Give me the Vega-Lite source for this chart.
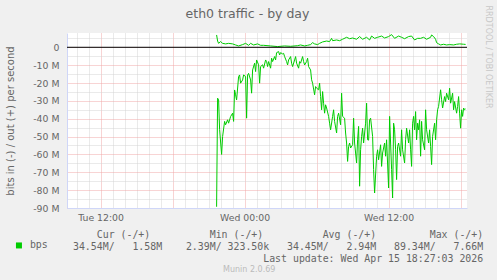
{
"$schema": "https://vega.github.io/schema/vega-lite/v6.json",
"width": 400, "height": 175,
"autosize": "none",
"padding": {"left": 67, "top": 33, "right": 30, "bottom": 72},
"background": "#F0F0F0",
"view": {"fill": "#FFFFFF", "stroke": null},
"title": {"text": "eth0 traffic - by day", "font": "DejaVu Sans", "fontSize": 12.5, "fontWeight": "normal", "color": "#666666", "frame": "group", "anchor": "middle", "dx": -19.5, "offset": -15},
"data": {"values": [
{"t":"2026-04-14T21:40:00Z","dir":"in","mbps":-89.3},
{"t":"2026-04-14T21:45:00Z","dir":"in","mbps":-28.5},
{"t":"2026-04-14T21:50:00Z","dir":"in","mbps":-29.5},
{"t":"2026-04-14T21:55:00Z","dir":"in","mbps":-46},
{"t":"2026-04-14T22:05:00Z","dir":"in","mbps":-60},
{"t":"2026-04-14T22:10:00Z","dir":"in","mbps":-50},
{"t":"2026-04-14T22:20:00Z","dir":"in","mbps":-41.5},
{"t":"2026-04-14T22:25:00Z","dir":"in","mbps":-43.4},
{"t":"2026-04-14T22:35:00Z","dir":"in","mbps":-40.6},
{"t":"2026-04-14T22:40:00Z","dir":"in","mbps":-42.5},
{"t":"2026-04-14T22:50:00Z","dir":"in","mbps":-38.8},
{"t":"2026-04-14T23:00:00Z","dir":"in","mbps":-36.9},
{"t":"2026-04-14T23:05:00Z","dir":"in","mbps":-41.5},
{"t":"2026-04-14T23:10:00Z","dir":"in","mbps":-23.9},
{"t":"2026-04-14T23:15:00Z","dir":"in","mbps":-26.6},
{"t":"2026-04-14T23:20:00Z","dir":"in","mbps":-29.5},
{"t":"2026-04-14T23:30:00Z","dir":"in","mbps":-16.4},
{"t":"2026-04-14T23:35:00Z","dir":"in","mbps":-15.5},
{"t":"2026-04-14T23:40:00Z","dir":"in","mbps":-20.1},
{"t":"2026-04-14T23:50:00Z","dir":"in","mbps":-18.3},
{"t":"2026-04-14T23:55:00Z","dir":"in","mbps":-15.5},
{"t":"2026-04-15T00:05:00Z","dir":"in","mbps":-16.4},
{"t":"2026-04-15T00:10:00Z","dir":"in","mbps":-39.7},
{"t":"2026-04-15T00:15:00Z","dir":"in","mbps":-15.5},
{"t":"2026-04-15T00:20:00Z","dir":"in","mbps":-14.6},
{"t":"2026-04-15T00:30:00Z","dir":"in","mbps":-18.3},
{"t":"2026-04-15T00:35:00Z","dir":"in","mbps":-25.7},
{"t":"2026-04-15T00:40:00Z","dir":"in","mbps":-12.7},
{"t":"2026-04-15T00:50:00Z","dir":"in","mbps":-8.9},
{"t":"2026-04-15T00:55:00Z","dir":"in","mbps":-13.6},
{"t":"2026-04-15T01:00:00Z","dir":"in","mbps":-7.1},
{"t":"2026-04-15T01:10:00Z","dir":"in","mbps":-9.8},
{"t":"2026-04-15T01:15:00Z","dir":"in","mbps":-20.1},
{"t":"2026-04-15T01:20:00Z","dir":"in","mbps":-10.8},
{"t":"2026-04-15T01:30:00Z","dir":"in","mbps":-9.8},
{"t":"2026-04-15T01:35:00Z","dir":"in","mbps":-11.7},
{"t":"2026-04-15T01:45:00Z","dir":"in","mbps":-7.1},
{"t":"2026-04-15T01:50:00Z","dir":"in","mbps":-8.0},
{"t":"2026-04-15T01:55:00Z","dir":"in","mbps":-10.8},
{"t":"2026-04-15T02:00:00Z","dir":"in","mbps":-8.0},
{"t":"2026-04-15T02:10:00Z","dir":"in","mbps":-11.7},
{"t":"2026-04-15T02:15:00Z","dir":"in","mbps":-6.1},
{"t":"2026-04-15T02:20:00Z","dir":"in","mbps":-8.0},
{"t":"2026-04-15T02:30:00Z","dir":"in","mbps":-5.2},
{"t":"2026-04-15T02:35:00Z","dir":"in","mbps":-7.1},
{"t":"2026-04-15T02:40:00Z","dir":"in","mbps":-3.0},
{"t":"2026-04-15T02:50:00Z","dir":"in","mbps":-2.4},
{"t":"2026-04-15T02:55:00Z","dir":"in","mbps":-4.3},
{"t":"2026-04-15T03:00:00Z","dir":"in","mbps":-3.0},
{"t":"2026-04-15T03:10:00Z","dir":"in","mbps":-3.7},
{"t":"2026-04-15T03:15:00Z","dir":"in","mbps":-3.4},
{"t":"2026-04-15T03:20:00Z","dir":"in","mbps":-5.2},
{"t":"2026-04-15T03:30:00Z","dir":"in","mbps":-8.0},
{"t":"2026-04-15T03:35:00Z","dir":"in","mbps":-9.9},
{"t":"2026-04-15T03:40:00Z","dir":"in","mbps":-7.1},
{"t":"2026-04-15T03:50:00Z","dir":"in","mbps":-5.2},
{"t":"2026-04-15T03:55:00Z","dir":"in","mbps":-8.9},
{"t":"2026-04-15T04:00:00Z","dir":"in","mbps":-10.8},
{"t":"2026-04-15T04:10:00Z","dir":"in","mbps":-7.1},
{"t":"2026-04-15T04:15:00Z","dir":"in","mbps":-5.2},
{"t":"2026-04-15T04:20:00Z","dir":"in","mbps":-8.9},
{"t":"2026-04-15T04:30:00Z","dir":"in","mbps":-11.7},
{"t":"2026-04-15T04:35:00Z","dir":"in","mbps":-8.0},
{"t":"2026-04-15T04:40:00Z","dir":"in","mbps":-8.9},
{"t":"2026-04-15T04:50:00Z","dir":"in","mbps":-5.2},
{"t":"2026-04-15T04:55:00Z","dir":"in","mbps":-8.0},
{"t":"2026-04-15T05:00:00Z","dir":"in","mbps":-9.9},
{"t":"2026-04-15T05:10:00Z","dir":"in","mbps":-8.0},
{"t":"2026-04-15T05:15:00Z","dir":"in","mbps":-6.1},
{"t":"2026-04-15T05:20:00Z","dir":"in","mbps":-10.8},
{"t":"2026-04-15T05:30:00Z","dir":"in","mbps":-12.7},
{"t":"2026-04-15T05:35:00Z","dir":"in","mbps":-18.2},
{"t":"2026-04-15T05:40:00Z","dir":"in","mbps":-20.1},
{"t":"2026-04-15T05:50:00Z","dir":"in","mbps":-26.6},
{"t":"2026-04-15T05:55:00Z","dir":"in","mbps":-22},
{"t":"2026-04-15T06:00:00Z","dir":"in","mbps":-22.9},
{"t":"2026-04-15T06:10:00Z","dir":"in","mbps":-23.8},
{"t":"2026-04-15T06:15:00Z","dir":"in","mbps":-20.1},
{"t":"2026-04-15T06:20:00Z","dir":"in","mbps":-27.6},
{"t":"2026-04-15T06:25:00Z","dir":"in","mbps":-35},
{"t":"2026-04-15T06:30:00Z","dir":"in","mbps":-24.8},
{"t":"2026-04-15T06:35:00Z","dir":"in","mbps":-31.3},
{"t":"2026-04-15T06:40:00Z","dir":"in","mbps":-36.9},
{"t":"2026-04-15T06:45:00Z","dir":"in","mbps":-32.2},
{"t":"2026-04-15T06:50:00Z","dir":"in","mbps":-34},
{"t":"2026-04-15T07:00:00Z","dir":"in","mbps":-38.7},
{"t":"2026-04-15T07:05:00Z","dir":"in","mbps":-42.5},
{"t":"2026-04-15T07:10:00Z","dir":"in","mbps":-46.2},
{"t":"2026-04-15T07:20:00Z","dir":"in","mbps":-38.7},
{"t":"2026-04-15T07:25:00Z","dir":"in","mbps":-35},
{"t":"2026-04-15T07:30:00Z","dir":"in","mbps":-41.5},
{"t":"2026-04-15T07:40:00Z","dir":"in","mbps":-48},
{"t":"2026-04-15T07:45:00Z","dir":"in","mbps":-38.7},
{"t":"2026-04-15T07:50:00Z","dir":"in","mbps":-36.9},
{"t":"2026-04-15T08:00:00Z","dir":"in","mbps":-43.4},
{"t":"2026-04-15T08:05:00Z","dir":"in","mbps":-25.7},
{"t":"2026-04-15T08:10:00Z","dir":"in","mbps":-38.7},
{"t":"2026-04-15T08:20:00Z","dir":"in","mbps":-39.7},
{"t":"2026-04-15T08:25:00Z","dir":"in","mbps":-48},
{"t":"2026-04-15T08:30:00Z","dir":"in","mbps":-53.6},
{"t":"2026-04-15T08:35:00Z","dir":"in","mbps":-63.9},
{"t":"2026-04-15T08:40:00Z","dir":"in","mbps":-55.5},
{"t":"2026-04-15T08:45:00Z","dir":"in","mbps":-53.6},
{"t":"2026-04-15T08:50:00Z","dir":"in","mbps":-56.4},
{"t":"2026-04-15T09:00:00Z","dir":"in","mbps":-54.6},
{"t":"2026-04-15T09:05:00Z","dir":"in","mbps":-39.7},
{"t":"2026-04-15T09:10:00Z","dir":"in","mbps":-53.6},
{"t":"2026-04-15T09:15:00Z","dir":"in","mbps":-59.2},
{"t":"2026-04-15T09:20:00Z","dir":"in","mbps":-64.8},
{"t":"2026-04-15T09:25:00Z","dir":"in","mbps":-51.8},
{"t":"2026-04-15T09:30:00Z","dir":"in","mbps":-44.3},
{"t":"2026-04-15T09:35:00Z","dir":"in","mbps":-77.8},
{"t":"2026-04-15T09:40:00Z","dir":"in","mbps":-57.4},
{"t":"2026-04-15T09:45:00Z","dir":"in","mbps":-49.9},
{"t":"2026-04-15T09:50:00Z","dir":"in","mbps":-45.3},
{"t":"2026-04-15T09:55:00Z","dir":"in","mbps":-53.6},
{"t":"2026-04-15T10:05:00Z","dir":"in","mbps":-42.5},
{"t":"2026-04-15T10:10:00Z","dir":"in","mbps":-31.3},
{"t":"2026-04-15T10:15:00Z","dir":"in","mbps":-51.8},
{"t":"2026-04-15T10:20:00Z","dir":"in","mbps":-52},
{"t":"2026-04-15T10:25:00Z","dir":"in","mbps":-40.6},
{"t":"2026-04-15T10:30:00Z","dir":"in","mbps":-39.7},
{"t":"2026-04-15T10:40:00Z","dir":"in","mbps":-49.9},
{"t":"2026-04-15T10:45:00Z","dir":"in","mbps":-68.5},
{"t":"2026-04-15T10:50:00Z","dir":"in","mbps":-81.6},
{"t":"2026-04-15T11:00:00Z","dir":"in","mbps":-61},
{"t":"2026-04-15T11:05:00Z","dir":"in","mbps":-57.4},
{"t":"2026-04-15T11:10:00Z","dir":"in","mbps":-63},
{"t":"2026-04-15T11:20:00Z","dir":"in","mbps":-54.6},
{"t":"2026-04-15T11:25:00Z","dir":"in","mbps":-66.7},
{"t":"2026-04-15T11:30:00Z","dir":"in","mbps":-59.2},
{"t":"2026-04-15T11:40:00Z","dir":"in","mbps":-53.6},
{"t":"2026-04-15T11:45:00Z","dir":"in","mbps":-61},
{"t":"2026-04-15T11:50:00Z","dir":"in","mbps":-51.8},
{"t":"2026-04-15T12:00:00Z","dir":"in","mbps":-78.8},
{"t":"2026-04-15T12:05:00Z","dir":"in","mbps":-38.7},
{"t":"2026-04-15T12:10:00Z","dir":"in","mbps":-53.6},
{"t":"2026-04-15T12:15:00Z","dir":"in","mbps":-68.5},
{"t":"2026-04-15T12:20:00Z","dir":"in","mbps":-84.4},
{"t":"2026-04-15T12:25:00Z","dir":"in","mbps":-42.5},
{"t":"2026-04-15T12:30:00Z","dir":"in","mbps":-46.2},
{"t":"2026-04-15T12:35:00Z","dir":"in","mbps":-57.4},
{"t":"2026-04-15T12:40:00Z","dir":"in","mbps":-74.1},
{"t":"2026-04-15T12:45:00Z","dir":"in","mbps":-55.5},
{"t":"2026-04-15T12:50:00Z","dir":"in","mbps":-53.6},
{"t":"2026-04-15T13:00:00Z","dir":"in","mbps":-61},
{"t":"2026-04-15T13:05:00Z","dir":"in","mbps":-46.2},
{"t":"2026-04-15T13:10:00Z","dir":"in","mbps":-57.4},
{"t":"2026-04-15T13:20:00Z","dir":"in","mbps":-64.8},
{"t":"2026-04-15T13:25:00Z","dir":"in","mbps":-51.8},
{"t":"2026-04-15T13:30:00Z","dir":"in","mbps":-45.3},
{"t":"2026-04-15T13:40:00Z","dir":"in","mbps":-53.6},
{"t":"2026-04-15T13:45:00Z","dir":"in","mbps":-46.2},
{"t":"2026-04-15T13:50:00Z","dir":"in","mbps":-57.4},
{"t":"2026-04-15T13:55:00Z","dir":"in","mbps":-66.7},
{"t":"2026-04-15T14:00:00Z","dir":"in","mbps":-42.5},
{"t":"2026-04-15T14:05:00Z","dir":"in","mbps":-38.7},
{"t":"2026-04-15T14:10:00Z","dir":"in","mbps":-46.2},
{"t":"2026-04-15T14:15:00Z","dir":"in","mbps":-36},
{"t":"2026-04-15T14:20:00Z","dir":"in","mbps":-51.8},
{"t":"2026-04-15T14:25:00Z","dir":"in","mbps":-42.5},
{"t":"2026-04-15T14:30:00Z","dir":"in","mbps":-46.2},
{"t":"2026-04-15T14:35:00Z","dir":"in","mbps":-40.6},
{"t":"2026-04-15T14:40:00Z","dir":"in","mbps":-61},
{"t":"2026-04-15T14:45:00Z","dir":"in","mbps":-41.5},
{"t":"2026-04-15T14:50:00Z","dir":"in","mbps":-51.8},
{"t":"2026-04-15T15:00:00Z","dir":"in","mbps":-57.4},
{"t":"2026-04-15T15:05:00Z","dir":"in","mbps":-35},
{"t":"2026-04-15T15:10:00Z","dir":"in","mbps":-46.2},
{"t":"2026-04-15T15:20:00Z","dir":"in","mbps":-53.6},
{"t":"2026-04-15T15:25:00Z","dir":"in","mbps":-46.2},
{"t":"2026-04-15T15:30:00Z","dir":"in","mbps":-55.5},
{"t":"2026-04-15T15:35:00Z","dir":"in","mbps":-65.7},
{"t":"2026-04-15T15:40:00Z","dir":"in","mbps":-49.9},
{"t":"2026-04-15T15:50:00Z","dir":"in","mbps":-42.5},
{"t":"2026-04-15T15:55:00Z","dir":"in","mbps":-51.8},
{"t":"2026-04-15T16:00:00Z","dir":"in","mbps":-40.6},
{"t":"2026-04-15T16:05:00Z","dir":"in","mbps":-35},
{"t":"2026-04-15T16:10:00Z","dir":"in","mbps":-33.1},
{"t":"2026-04-15T16:20:00Z","dir":"in","mbps":-23.8},
{"t":"2026-04-15T16:25:00Z","dir":"in","mbps":-29.4},
{"t":"2026-04-15T16:30:00Z","dir":"in","mbps":-34},
{"t":"2026-04-15T16:40:00Z","dir":"in","mbps":-27.6},
{"t":"2026-04-15T16:45:00Z","dir":"in","mbps":-30.4},
{"t":"2026-04-15T16:50:00Z","dir":"in","mbps":-25.7},
{"t":"2026-04-15T17:00:00Z","dir":"in","mbps":-29.4},
{"t":"2026-04-15T17:05:00Z","dir":"in","mbps":-22.9},
{"t":"2026-04-15T17:10:00Z","dir":"in","mbps":-31.3},
{"t":"2026-04-15T17:20:00Z","dir":"in","mbps":-25.7},
{"t":"2026-04-15T17:25:00Z","dir":"in","mbps":-35},
{"t":"2026-04-15T17:30:00Z","dir":"in","mbps":-30.4},
{"t":"2026-04-15T17:40:00Z","dir":"in","mbps":-36.9},
{"t":"2026-04-15T17:45:00Z","dir":"in","mbps":-33.1},
{"t":"2026-04-15T17:50:00Z","dir":"in","mbps":-27.6},
{"t":"2026-04-15T17:55:00Z","dir":"in","mbps":-36.9},
{"t":"2026-04-15T18:00:00Z","dir":"in","mbps":-45.3},
{"t":"2026-04-15T18:05:00Z","dir":"in","mbps":-35},
{"t":"2026-04-15T18:10:00Z","dir":"in","mbps":-38.7},
{"t":"2026-04-15T18:15:00Z","dir":"in","mbps":-34},
{"t":"2026-04-15T18:20:00Z","dir":"in","mbps":-35},
{"t":"2026-04-15T18:25:00Z","dir":"in","mbps":-34.5},
{"t":"2026-04-14T21:40:00Z","dir":"out","mbps":6.9},
{"t":"2026-04-14T21:45:00Z","dir":"out","mbps":3.5},
{"t":"2026-04-14T21:50:00Z","dir":"out","mbps":2.2},
{"t":"2026-04-14T22:00:00Z","dir":"out","mbps":3.2},
{"t":"2026-04-14T22:10:00Z","dir":"out","mbps":2.2},
{"t":"2026-04-14T22:25:00Z","dir":"out","mbps":1.9},
{"t":"2026-04-14T22:40:00Z","dir":"out","mbps":2.2},
{"t":"2026-04-14T23:00:00Z","dir":"out","mbps":1.9},
{"t":"2026-04-14T23:15:00Z","dir":"out","mbps":1.3},
{"t":"2026-04-14T23:30:00Z","dir":"out","mbps":0.75},
{"t":"2026-04-14T23:50:00Z","dir":"out","mbps":1.5},
{"t":"2026-04-15T00:05:00Z","dir":"out","mbps":2.2},
{"t":"2026-04-15T00:20:00Z","dir":"out","mbps":1.1},
{"t":"2026-04-15T00:30:00Z","dir":"out","mbps":2.2},
{"t":"2026-04-15T00:45:00Z","dir":"out","mbps":1.3},
{"t":"2026-04-15T01:05:00Z","dir":"out","mbps":1.9},
{"t":"2026-04-15T01:20:00Z","dir":"out","mbps":1.1},
{"t":"2026-04-15T01:35:00Z","dir":"out","mbps":1.1},
{"t":"2026-04-15T02:10:00Z","dir":"out","mbps":0.75},
{"t":"2026-04-15T02:45:00Z","dir":"out","mbps":0.4},
{"t":"2026-04-15T03:20:00Z","dir":"out","mbps":0.75},
{"t":"2026-04-15T03:50:00Z","dir":"out","mbps":0.55},
{"t":"2026-04-15T04:25:00Z","dir":"out","mbps":0.9},
{"t":"2026-04-15T04:40:00Z","dir":"out","mbps":1.3},
{"t":"2026-04-15T05:00:00Z","dir":"out","mbps":0.75},
{"t":"2026-04-15T05:15:00Z","dir":"out","mbps":1.1},
{"t":"2026-04-15T05:30:00Z","dir":"out","mbps":1.5},
{"t":"2026-04-15T05:40:00Z","dir":"out","mbps":2.6},
{"t":"2026-04-15T05:50:00Z","dir":"out","mbps":1.9},
{"t":"2026-04-15T06:05:00Z","dir":"out","mbps":1.5},
{"t":"2026-04-15T06:15:00Z","dir":"out","mbps":2.2},
{"t":"2026-04-15T06:30:00Z","dir":"out","mbps":3.0},
{"t":"2026-04-15T06:50:00Z","dir":"out","mbps":3.5},
{"t":"2026-04-15T07:05:00Z","dir":"out","mbps":3.2},
{"t":"2026-04-15T07:15:00Z","dir":"out","mbps":5.0},
{"t":"2026-04-15T07:20:00Z","dir":"out","mbps":3.7},
{"t":"2026-04-15T07:40:00Z","dir":"out","mbps":4.1},
{"t":"2026-04-15T07:55:00Z","dir":"out","mbps":3.7},
{"t":"2026-04-15T08:10:00Z","dir":"out","mbps":4.5},
{"t":"2026-04-15T08:30:00Z","dir":"out","mbps":5.6},
{"t":"2026-04-15T08:45:00Z","dir":"out","mbps":4.8},
{"t":"2026-04-15T09:00:00Z","dir":"out","mbps":5.2},
{"t":"2026-04-15T09:20:00Z","dir":"out","mbps":4.5},
{"t":"2026-04-15T09:35:00Z","dir":"out","mbps":6.0},
{"t":"2026-04-15T09:50:00Z","dir":"out","mbps":4.5},
{"t":"2026-04-15T10:10:00Z","dir":"out","mbps":5.6},
{"t":"2026-04-15T10:25:00Z","dir":"out","mbps":4.1},
{"t":"2026-04-15T10:35:00Z","dir":"out","mbps":6.3},
{"t":"2026-04-15T10:50:00Z","dir":"out","mbps":5.0},
{"t":"2026-04-15T11:05:00Z","dir":"out","mbps":5.6},
{"t":"2026-04-15T11:25:00Z","dir":"out","mbps":6.3},
{"t":"2026-04-15T11:40:00Z","dir":"out","mbps":5.2},
{"t":"2026-04-15T12:00:00Z","dir":"out","mbps":6.0},
{"t":"2026-04-15T12:15:00Z","dir":"out","mbps":7.1},
{"t":"2026-04-15T12:30:00Z","dir":"out","mbps":5.0},
{"t":"2026-04-15T12:50:00Z","dir":"out","mbps":6.3},
{"t":"2026-04-15T13:05:00Z","dir":"out","mbps":5.6},
{"t":"2026-04-15T13:20:00Z","dir":"out","mbps":4.8},
{"t":"2026-04-15T13:40:00Z","dir":"out","mbps":6.0},
{"t":"2026-04-15T13:55:00Z","dir":"out","mbps":6.3},
{"t":"2026-04-15T14:10:00Z","dir":"out","mbps":4.1},
{"t":"2026-04-15T14:25:00Z","dir":"out","mbps":5.0},
{"t":"2026-04-15T14:40:00Z","dir":"out","mbps":5.0},
{"t":"2026-04-15T14:55:00Z","dir":"out","mbps":5.6},
{"t":"2026-04-15T15:10:00Z","dir":"out","mbps":4.5},
{"t":"2026-04-15T15:30:00Z","dir":"out","mbps":5.6},
{"t":"2026-04-15T15:35:00Z","dir":"out","mbps":6.9},
{"t":"2026-04-15T15:45:00Z","dir":"out","mbps":6.0},
{"t":"2026-04-15T15:55:00Z","dir":"out","mbps":4.5},
{"t":"2026-04-15T16:00:00Z","dir":"out","mbps":2.6},
{"t":"2026-04-15T16:10:00Z","dir":"out","mbps":1.9},
{"t":"2026-04-15T16:20:00Z","dir":"out","mbps":1.3},
{"t":"2026-04-15T16:35:00Z","dir":"out","mbps":1.7},
{"t":"2026-04-15T16:50:00Z","dir":"out","mbps":1.3},
{"t":"2026-04-15T17:05:00Z","dir":"out","mbps":1.5},
{"t":"2026-04-15T17:25:00Z","dir":"out","mbps":1.3},
{"t":"2026-04-15T17:40:00Z","dir":"out","mbps":1.7},
{"t":"2026-04-15T17:55:00Z","dir":"out","mbps":1.9},
{"t":"2026-04-15T18:15:00Z","dir":"out","mbps":1.7},
{"t":"2026-04-15T18:25:00Z","dir":"out","mbps":1.6}
]},
"layer": [
{
 "transform": [{"filter": "datum.dir == 'in'"}],
 "mark": {"type": "line", "strokeWidth": 1},
 "encoding": {
  "x": {"field": "t", "type": "temporal",
   "scale": {"type": "utc", "domain": [1776157920000, 1776277920000]},
   "axis": {
    "values": [1776160800000,1776164400000,1776168000000,1776171600000,1776175200000,1776178800000,1776182400000,1776186000000,1776189600000,1776193200000,1776196800000,1776200400000,1776204000000,1776207600000,1776211200000,1776214800000,1776218400000,1776222000000,1776225600000,1776229200000,1776232800000,1776236400000,1776240000000,1776243600000,1776247200000,1776250800000,1776254400000,1776258000000,1776261600000,1776265200000,1776268800000,1776272400000,1776276000000],
    "labelExpr": "utchours(datum.value) % 12 == 0 ? utcFormat(datum.value, '%a %H:%M') : ''",
    "labelOverlap": false, "labelFlush": false, "labelBound": false,
    "ticks": false, "tickSize": 0, "labelPadding": 5,
    "labelFont": "DejaVu Sans", "labelFontSize": 9.33, "labelColor": "#666666",
    "domainColor": "#CFD6F8", "domainWidth": 1,
    "grid": true, "gridDash": [1, 1], "gridWidth": 1, "gridOpacity": 1,
    "gridColor": {"condition": {"test": "utchours(datum.value) % 6 == 0", "value": "#F0A8A8"}, "value": "#D4D4D4"},
    "title": ["Cur\u00a0(-/+)\u00a0\u00a0\u00a0\u00a0\u00a0\u00a0\u00a0\u00a0\u00a0\u00a0Min\u00a0(-/+)\u00a0\u00a0\u00a0\u00a0\u00a0\u00a0\u00a0\u00a0\u00a0\u00a0Avg\u00a0(-/+)\u00a0\u00a0\u00a0\u00a0\u00a0\u00a0\u00a0\u00a0\u00a0Max\u00a0(-/+)\u00a0", "34.54M/\u00a0\u00a0\u00a01.58M\u00a0\u00a0\u00a0\u00a02.39M/\u00a0323.50k\u00a0\u00a0\u00a034.45M/\u00a0\u00a0\u00a02.94M\u00a0\u00a0\u00a089.34M/\u00a0\u00a0\u00a07.66M", "Last update: Wed Apr 15 18:27:03 2026"],
    "titleFont": "DejaVu Sans Mono", "titleFontSize": 9.9, "titleFontWeight": "normal", "titleColor": "#666666",
    "titleAlign": "right", "titleBaseline": "top", "titleLineHeight": 12, "titleX": 415.7, "titleY": 21, "titleAngle": 0
   }},
  "y": {"field": "mbps", "type": "quantitative",
   "scale": {"domain": [-90, 8], "nice": false, "zero": false},
   "axis": {
    "values": [-90,-85,-80,-75,-70,-65,-60,-55,-50,-45,-40,-35,-30,-25,-20,-15,-10,-5,0,5],
    "labelExpr": "datum.value % 10 == 0 ? (datum.value == 0 ? '0' : datum.value + ' M') : ''",
    "labelOverlap": false, "ticks": false, "tickSize": 0, "labelPadding": 8,
    "labelFont": "DejaVu Sans", "labelFontSize": 9.33, "labelColor": "#666666",
    "domainColor": "#CFD6F8", "domainWidth": 1,
    "grid": true, "gridDash": [1, 1], "gridWidth": 1, "gridOpacity": 1,
    "gridColor": {"condition": {"test": "datum.value % 10 == 0", "value": "#F0A8A8"}, "value": "#D4D4D4"},
    "title": "bits in (-) / out (+) per second",
    "titleFont": "DejaVu Sans", "titleFontSize": 10, "titleFontWeight": "normal", "titleColor": "#666666",
    "titleX": -57, "titleY": 87.5, "titleAngle": -90, "titleAlign": "center", "titleBaseline": "middle"
   }},
  "color": {"datum": "bps", "type": "nominal", "scale": {"range": ["#00CC00"]},
   "legend": {"title": null, "orient": "none", "legendX": -53, "legendY": 207.5, "padding": 0,
    "symbolType": "square", "symbolSize": 36, "symbolFillColor": "#00CC00", "symbolStrokeColor": "#00CC00", "symbolStrokeWidth": 0,
    "labelFont": "DejaVu Sans Mono", "labelFontSize": 9.9, "labelColor": "#666666", "labelOffset": 6}}
 }
},
{
 "transform": [{"filter": "datum.dir == 'out'"}],
 "mark": {"type": "line", "strokeWidth": 1, "color": "#00CC00"},
 "encoding": {
  "x": {"field": "t", "type": "temporal",
   "scale": {"type": "utc", "domain": [1776157920000, 1776277920000]},
   "axis": {"orient": "bottom", "labels": false, "ticks": false, "domain": false, "grid": false,
    "title": "Munin 2.0.69", "titleFont": "DejaVu Sans", "titleFontSize": 8, "titleFontWeight": "normal", "titleColor": "#BBBBBB",
    "titleX": 181.7, "titleY": 61, "titleAlign": "center", "titleBaseline": "middle", "titleAngle": 0}},
  "y": {"field": "mbps", "type": "quantitative",
   "scale": {"domain": [-90, 8], "nice": false, "zero": false},
   "axis": {"orient": "right", "labels": false, "ticks": false, "domain": false, "grid": false,
    "title": "RRDTOOL / TOBI OETIKER", "titleFont": "DejaVu Sans", "titleFontSize": 8, "titleFontWeight": "normal", "titleColor": "#C8C8C8",
    "titleAngle": 90, "titleX": 20.7, "titleY": -28, "titleAlign": "left", "titleBaseline": "middle"}}
 }
},
{
 "data": {"values": [{"mbps": 0}]},
 "mark": {"type": "rule", "color": "#000000", "strokeWidth": 1},
 "encoding": {"y": {"field": "mbps", "type": "quantitative", "axis": null}}
}
],
"resolve": {"axis": {"x": "independent", "y": "independent"}}
}
